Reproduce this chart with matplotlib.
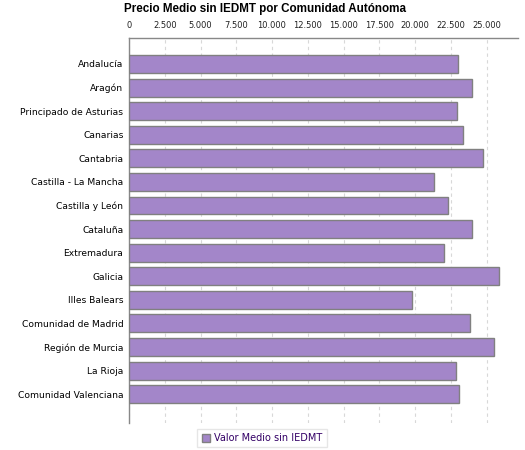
import numpy as np
import matplotlib
matplotlib.use("Agg")
import matplotlib.pyplot as plt
from matplotlib.ticker import FuncFormatter

regiones = ["Andalucía", "Aragón", "Principado de Asturias", "Canarias", "Cantabria",
            "Castilla - La Mancha", "Castilla y León", "Cataluña", "Extremadura", "Galicia",
            "Illes Balears", "Comunidad de Madrid", "Región de Murcia", "La Rioja",
            "Comunidad Valenciana"]
precio = [22970, 23990, 22900, 23320, 24720, 21360, 22340, 23950, 22060, 25840,
          19820, 23810, 25490, 22830, 23040]
ticks = [0, 2500, 5000, 7500, 10000, 12500, 15000, 17500, 20000, 22500, 25000]

plt.rcParams["font.family"] = ["DejaVu Sans"]

fig = plt.figure(figsize=(5.25, 4.5), dpi=100)
ax = fig.add_axes([129 / 525, 1 - 423 / 450, (518 - 129) / 525, (423 - 38) / 450])

y = np.arange(len(regiones))
ax.barh(y, precio, height=0.76, color="#a386c9", edgecolor="#808080", linewidth=1,
        label="Valor Medio sin IEDMT", zorder=3)

ax.set_ylim(len(regiones) - 1 + 1.22, -1.1)
ax.set_xlim(0, 27200)
ax.set_yticks(y)
ax.set_yticklabels(regiones, fontsize=6.6)
ax.set_xticks(ticks)
ax.xaxis.set_major_formatter(FuncFormatter(lambda v, p: f"{int(v):,}".replace(",", ".")))
ax.xaxis.tick_top()
ax.tick_params(axis="x", labelsize=6, length=0, pad=6, labelcolor="#222222")
ax.tick_params(axis="y", length=0, pad=4)
ax.grid(axis="x", color="#d8d8d8", linestyle=(0, (3, 3)), linewidth=0.8, zorder=0)

for s in ["right", "bottom"]:
    ax.spines[s].set_visible(False)
for s in ["top", "left"]:
    ax.spines[s].set_color("#888888")
    ax.spines[s].set_linewidth(1)

fig.text(124 / 525, 1 - 9 / 450, "Precio Medio sin IEDMT por Comunidad Autónoma",
         fontsize=8.4, fontweight="bold", va="center", ha="left",
         family=["Liberation Sans", "DejaVu Sans"])

leg = fig.legend(loc="center", bbox_to_anchor=(262 / 525, 1 - 438 / 450), fontsize=7,
                 frameon=True, fancybox=False, handlelength=0.9, handleheight=0.9,
                 handletextpad=0.4, borderpad=0.45, edgecolor="#e0e0e0")
for t in leg.get_texts():
    t.set_color("#330066")

fig.savefig("out.png", dpi=100)
